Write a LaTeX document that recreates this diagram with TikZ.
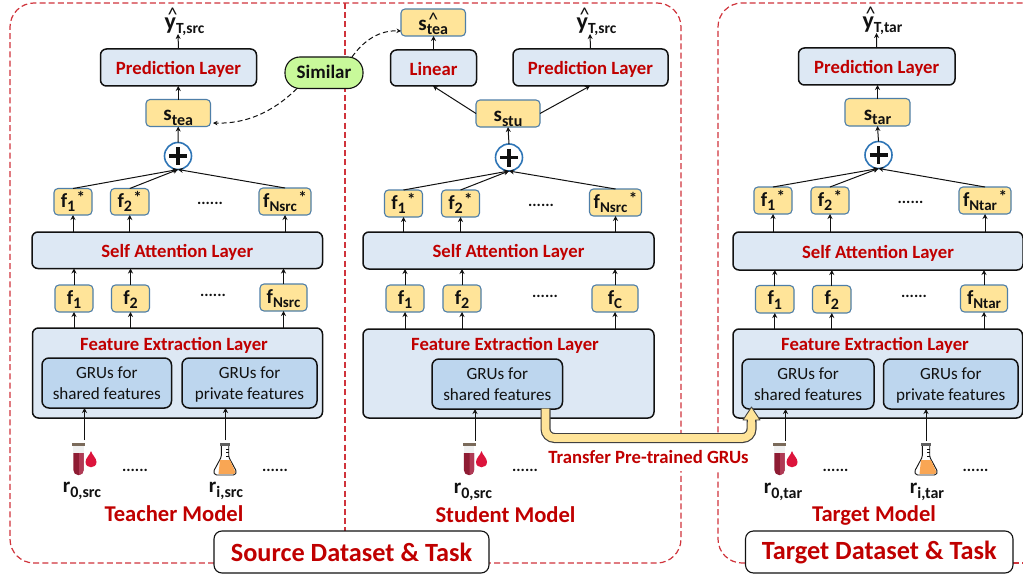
\documentclass[tikz,border=0pt]{standalone}
\usepackage{fontspec}
\setmainfont{Carlito}
\usetikzlibrary{arrows.meta,calc}
\definecolor{redt}{HTML}{C00000}
\definecolor{dashr}{HTML}{D0343C}
\definecolor{layerfill}{HTML}{DDE8F4}
\definecolor{grufill}{HTML}{BDD6EE}
\definecolor{orng}{HTML}{FFE499}
\definecolor{orngb}{HTML}{4F7FA8}
\definecolor{simf}{HTML}{C8F99A}
\definecolor{ink}{HTML}{111111}
\definecolor{plusb}{HTML}{2E75B6}
\definecolor{tubed}{HTML}{8E1C33}
\definecolor{tubel}{HTML}{B03A55}
\definecolor{dropc}{HTML}{DC143C}
\definecolor{capc}{HTML}{7A6A5A}
\definecolor{flaskc}{HTML}{F9A654}
\newcommand\fsz[1]{\fontsize{#1}{#1}\selectfont}
\newcommand\SSub[2]{{\fsz{21}\bfseries #1\raisebox{-4.5pt}{\fsz{16}#2}}}
\newcommand\FF[2]{{\fsz{20}\bfseries f\raisebox{-4.5pt}{\fsz{#2}#1}}}
\newcommand\FS[2]{{\fsz{20}\bfseries f\raisebox{-4.5pt}{\fsz{#2}#1}\kern 1.5pt\raisebox{3.5pt}{\fsz{17}*}}}
\newcommand\YH[1]{{\fsz{24}\bfseries y\llap{\smash{\raisebox{8pt}{\fsz{20}\mdseries\symbol{94}\kern-1.5pt}}}\raisebox{-4pt}{\fsz{15.5}#1}}}
\newcommand\SH[1]{{\fsz{21}\bfseries s\rlap{\smash{\kern1.5pt\raisebox{4pt}{\fsz{20}\mdseries\symbol{94}}}}\raisebox{-4.5pt}{\fsz{16}#1}}}
\newcommand\RR[2]{{\fsz{21}\bfseries r\raisebox{-4.5pt}{\fsz{16}#1,#2}}}
\newcommand\GG[2]{\vbox{\kern4pt\hbox{\begin{tabular}{@{}c@{}}#1\\#2\end{tabular}}}}
\newcommand\bx[7][]{%
  \pgfmathsetmacro\bw{#5-#3}\pgfmathsetmacro\bh{#6-#4}%
  \pgfmathsetmacro\cx{(#3+#5)/2}\pgfmathsetmacro\cy{(#4+#6)/2}%
  \node[#1,minimum width=\bw pt,minimum height=\bh pt,inner sep=0pt,outer sep=0pt] (#2) at (\cx,\cy) {#7};}
\tikzset{
  layerbox/.style={draw=ink,line width=1.5pt,fill=layerfill,rounded corners=6pt,text=redt,font=\fsz{18.7}\bfseries,text height=16pt,text depth=2pt},
  grubox/.style={draw=ink,line width=1.5pt,fill=grufill,rounded corners=7pt,text=ink,font=\fontsize{17.1}{20.5}\selectfont},
  fbox/.style={draw=orngb,line width=1.1pt,fill=orng,rounded corners=4pt,text=ink,text height=13pt,text depth=2pt},
  sbox/.style={draw=orngb,line width=1.1pt,fill=orng,rounded corners=4pt,text=ink,text height=18pt,text depth=2pt},
  plusc/.style={circle,draw=plusb,line width=1.6pt,fill=white,minimum size=27pt,inner sep=0pt,outer sep=0pt},
  plusl/.style={line width=3.2pt,ink},
  arr/.style={draw=ink,line width=1pt,-{Stealth[length=5pt,width=5pt]}},
  simarr/.style={draw=ink,line width=1pt,dash pattern=on 5pt off 3pt,-{Stealth[length=4.5pt,width=4.5pt]}},
  dbox/.style={draw=dashr,line width=1.2pt,dash pattern=on 6pt off 3.2pt},
  titlebox/.style={draw=ink,line width=1.1pt,fill=white,rounded corners=8pt,text=redt,font=\fsz{26.3}\bfseries},
  modeltxt/.style={text=redt,font=\fsz{22.6}\bfseries,inner sep=0pt},
  feattxt/.style={text=redt,font=\fsz{18.7}\bfseries,inner sep=0pt},
  dottxt/.style={text=ink,font=\fsz{16}\bfseries,inner sep=0pt},
  rtxt/.style={text=ink,inner sep=0pt},
  tube/.pic={
    \fill[gray!12] (-5.2,4) rectangle (5.2,11);
    \fill[tubed] (-5.2,11) -- (5.2,11) -- (5.2,28) arc[start angle=0,end angle=180,radius=5.2] -- cycle;
    \fill[tubel] (0.5,11) -- (5.2,11) -- (5.2,28) arc[start angle=0,end angle=90,radius=5.2] -- (0.5,33.2) -- cycle;
    \fill[capc] (-6.5,0.5) rectangle (6.5,4);
    \fill[dropc] (12.5,9) .. controls (13.5,13) and (18,16) .. (18,20) .. controls (18,27) and (7,27) .. (7,20) .. controls (7,16) and (11.5,13) .. (12.5,9) -- cycle;
  },
  flask/.pic={
    \draw[ink,line width=0.9pt,fill=white,rounded corners=1.5pt] (-3.7,4) -- (-3.7,15) -- (-11.5,29.5) -- (-10,33) -- (10,33) -- (11.5,29.5) -- (3.7,15) -- (3.7,4);
    \fill[flaskc] (-5,18) -- (5,18) -- (10.3,30) -- (9,31.8) -- (-6.5,31.8) -- cycle;
    \fill[gray!75!black] (-5,0.5) rectangle (5,4);
    \draw[ink,line width=0.7pt] (1,7) -- (3.7,7) (1,10.5) -- (3.7,10.5) (1,14) -- (3.7,14);
  }
}
\begin{document}
\begin{tikzpicture}[x=1pt,y=-1pt]
\clip (0,0) rectangle (1023,578);
\fill[white] (0,0) rectangle (1023,578);
% dashed frames
\draw[dbox,rounded corners=24pt] (214,563) -- (10,563) -- (10,3) -- (681,3) -- (681,563) -- (489,563);
\coordinate (divt) at (345,3);
\coordinate (divb) at (345,531);
\draw[dbox] (divt) -- (divb);
\draw[dbox,rounded corners=24pt] (745,563) -- (718,563) -- (718,3) -- (1045,3);
\draw[dbox] (1013,563) -- (1045,563);
% ---------- teacher
\bx[layerbox]{tpred}{100.5}{49}{256.5}{86}{Prediction Layer}
\bx[sbox]{tstea}{146}{99.5}{210.5}{126.5}{\SSub{s}{tea}}
\node[plusc] (tplus) at (178,156) {};
\draw[plusl] (169,156) -- (187,156) (178,147) -- (178,165);
\bx[fbox]{tfa}{54}{188.5}{92}{215}{\FS{1}{16}}
\bx[fbox]{tfb}{110.5}{188.5}{149}{215}{\FS{2}{16}}
\bx[fbox]{tfc}{259}{188}{311}{215}{\FS{Nsrc}{15}}
\bx[layerbox]{tself}{32}{232}{322.5}{268.5}{Self Attention Layer}
\bx[fbox]{tga}{55}{285}{93}{312}{\FF{1}{16}}
\bx[fbox]{tgb}{111.5}{285}{149.5}{312}{\FF{2}{16}}
\bx[fbox]{tgc}{260}{284}{307}{311}{\FF{Nsrc}{15}}
\bx[layerbox]{tfeat}{32.5}{328}{322.5}{418}{}
\node[feattxt] (tfeatl) at (174,345.5) {Feature Extraction Layer};
\bx[grubox]{tgs}{42}{358}{171.5}{408}{\GG{GRUs for}{shared features}}
\bx[grubox]{tgp}{182}{358}{317}{408}{\GG{GRUs for}{private features}}
\node[text=ink,inner sep=0pt] (ty) at (184.5,27) {\YH{T,src}};
\node[dottxt] (td1) at (210,203) {......};
\node[dottxt] (td2) at (213,295) {......};
\node[dottxt] (td3) at (135,470) {......};
\node[dottxt] (td4) at (275,470) {......};
\pic at (78.5,442) {tube};
\pic at (225,442) {flask};
\coordinate (tra) at (84.5,440);
\coordinate (trb) at (225.5,440);
\node[rtxt] (tr0) at (82,491) {\RR{0}{src}};
\node[rtxt] (tri) at (226,491) {\RR{i}{src}};
\node[modeltxt] (tm) at (174,514) {Teacher Model};
\draw[arr] (tpred.north) -- (178,34);
\draw[arr] (tstea.north) -- (tstea.north |- tpred.south);
\draw[arr] (tplus.north) -- (tstea.south);
\foreach \a in {tfa,tfb,tfc} \draw[arr] (\a.north) -- (tplus.south);
\foreach \a/\b in {tga/tfa,tgb/tfb,tgc/tfc} {
  \draw[arr] (\a.north) -- (\a.north |- tself.south);
  \draw[arr] (\b.north |- tself.north) -- (\b.south);
  \draw[arr] (\a.south |- tfeat.north) -- (\a.south);
}
\draw[arr] (tra) -- (tra |- tgs.south);
\draw[arr] (trb) -- (trb |- tgp.south);
% ---------- student
\bx[sbox]{sstea}{401}{9}{465.5}{36}{\SH{tea}}
\bx[layerbox]{slin}{390.5}{50}{476.5}{86}{Linear}
\bx[layerbox]{spred}{513}{49}{668}{86}{Prediction Layer}
\bx[sbox]{sstu}{476}{100}{540}{127}{\SSub{s}{stu}}
\node[plusc] (splus) at (509,157.5) {};
\draw[plusl] (500,157.5) -- (518,157.5) (509,148.5) -- (509,166.5);
\bx[fbox]{sfa}{384.5}{190}{422.5}{217}{\FS{1}{16}}
\bx[fbox]{sfb}{441.5}{190}{479.5}{217}{\FS{2}{16}}
\bx[fbox]{sfc}{589.5}{189}{641.5}{216}{\FS{Nsrc}{15}}
\bx[layerbox]{sself}{363}{232}{654}{269}{Self Attention Layer}
\bx[fbox]{sga}{386}{285}{424}{312}{\FF{1}{16}}
\bx[fbox]{sgb}{443}{285}{481}{312}{\FF{2}{16}}
\bx[fbox]{sgc}{592}{285}{638}{312}{\FF{C}{15}}
\bx[layerbox]{sfeat}{363}{329}{654}{418}{}
\node[feattxt] (sfeatl) at (505,345.5) {Feature Extraction Layer};
\bx[grubox]{sgs}{432}{359}{562.5}{409}{\GG{GRUs for}{shared features}}
\node[text=ink,inner sep=0pt] (sy) at (596.5,27) {\YH{T,src}};
\node[dottxt] (sd1) at (541,205) {......};
\node[dottxt] (sd2) at (545,296) {......};
\node[dottxt] (sd3) at (525,470) {......};
\pic at (469,442) {tube};
\coordinate (sra) at (475,441);
\node[rtxt] (sr0) at (473,492) {\RR{0}{src}};
\node[modeltxt] (sm) at (505.5,515) {Student Model};
\draw[arr] (slin.north) -- (slin.north |- sstea.south);
\draw[arr] (spred.north) -- (590,34);
\draw[arr] (sstu.west) -- (433,86);
\draw[arr] (sstu.east) -- (590,86);
\draw[arr] (splus.north) -- (sstu.south);
\foreach \a in {sfa,sfb,sfc} \draw[arr] (\a.north) -- (splus.south);
\foreach \a/\b in {sga/sfa,sgb/sfb,sgc/sfc} {
  \draw[arr] (\a.north) -- (\a.north |- sself.south);
  \draw[arr] (\b.north |- sself.north) -- (\b.south);
  \draw[arr] (\a.south |- sfeat.north) -- (\a.south);
}
\draw[arr] (sra) -- (sra |- sgs.south);
% ---------- target
\bx[layerbox]{gpred}{798.5}{48}{955}{85}{Prediction Layer}
\bx[sbox]{gstar}{845}{98.5}{910}{126}{\SSub{s}{tar}}
\node[plusc] (gplus) at (878.5,155) {};
\draw[plusl] (869.5,155) -- (887.5,155) (878.5,146) -- (878.5,164);
\bx[fbox]{gfa}{754}{187}{792}{214}{\FS{1}{16}}
\bx[fbox]{gfb}{811}{187}{849}{214}{\FS{2}{16}}
\bx[fbox]{gfc}{959}{187}{1011}{214}{\FS{Ntar}{15}}
\bx[layerbox]{gself}{733}{232}{1023}{270}{Self Attention Layer}
\bx[fbox]{gga}{755.5}{285.5}{794}{313}{\FF{1}{16}}
\bx[fbox]{ggb}{812.5}{285.5}{851}{313}{\FF{2}{16}}
\bx[fbox]{ggc}{960.5}{285}{1007.5}{312}{\FF{Ntar}{15}}
\bx[layerbox]{gfeat}{733}{329}{1022.5}{418}{}
\node[feattxt] (gfeatl) at (875,345.5) {Feature Extraction Layer};
\bx[grubox]{ggs}{742}{359}{874}{409}{\GG{GRUs for}{shared features}}
\bx[grubox]{ggp}{883.5}{359}{1018}{409}{\GG{GRUs for}{private features}}
\node[text=ink,inner sep=0pt] (gy) at (882.5,26) {\YH{T,tar}};
\node[dottxt] (gd1) at (910.5,202) {......};
\node[dottxt] (gd2) at (914,296) {......};
\node[dottxt] (gd3) at (835.5,470) {......};
\node[dottxt] (gd4) at (975.5,470) {......};
\pic at (779.5,442) {tube};
\pic at (926,442) {flask};
\coordinate (gra) at (785.5,441);
\coordinate (grb) at (926,441);
\node[rtxt] (gr0) at (783,492) {\RR{0}{tar}};
\node[rtxt] (gri) at (927,492) {\RR{i}{tar}};
\node[modeltxt] (gm) at (874,515) {Target Model};
\draw[arr] (gpred.north) -- (876.5,33);
\draw[arr] (gstar.north) -- (gstar.north |- gpred.south);
\draw[arr] (gplus.north) -- (gstar.south);
\foreach \a in {gfa,gfb,gfc} \draw[arr] (\a.north) -- (gplus.south);
\foreach \a/\b in {gga/gfa,ggb/gfb,ggc/gfc} {
  \draw[arr] (\a.north) -- (\a.north |- gself.south);
  \draw[arr] (\b.north |- gself.north) -- (\b.south);
  \draw[arr] (\a.south |- gfeat.north) -- (\a.south);
}
\draw[arr] (gra) -- (gra |- ggs.south);
\draw[arr] (grb) -- (grb |- ggp.south);
% ---------- similar
\bx[draw=ink,line width=1.1pt,fill=simf,rounded corners=15pt,text=ink,font=\fsz{19}\bfseries,text height=14pt,text depth=2pt]{sim}{285}{57}{363}{88.5}{Similar}
\draw[simarr] ([xshift=12pt]sim.south west) .. controls (272,113) and (245,124) .. ([xshift=2.5pt,yshift=3.5pt]tstea.south east);
\draw[simarr] ([xshift=-11pt]sim.north east) .. controls (364,40) and (380,30) .. ([yshift=-8.5pt]sstea.west);
% ---------- transfer
\node[fill=white,text=redt,font=\fsz{18.7}\bfseries,inner xsep=1pt,inner ysep=3pt,minimum height=28pt] (trl) at (648.5,457) {Transfer Pre-trained GRUs};
\coordinate (ta) at (545.5,408.5);
\coordinate (tb) at (751.5,438);
\coordinate (tc) at (751.5,418);
\draw[ink!80,line width=10pt,rounded corners=9pt] (ta) |- (tb) -- (tc);
\draw[orng,line width=7.6pt,rounded corners=9pt] (ta) |- (tb) -- (tc);
\draw[ink!80,line width=0.9pt,fill=orng,line join=round] (743,420) -- (751.5,407) -- (760,420) -- (755.5,420) -- (755.5,422) -- (747.5,422) -- (747.5,420) -- cycle;
\fill[orng] (747.7,419) rectangle (755.3,424);
% ---------- titles
\bx[titlebox]{st}{214}{531}{489}{573}{Source Dataset \& Task}
\bx[titlebox]{gt}{745.5}{531}{1013}{573}{Target Dataset \& Task}
\end{tikzpicture}
\end{document}
